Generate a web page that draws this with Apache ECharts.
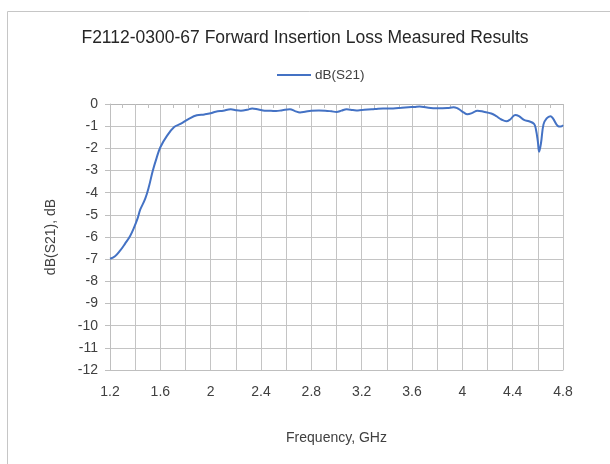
<!DOCTYPE html>
<html>
<head>
<meta charset="utf-8">
<script src="https://cdn.jsdelivr.net/npm/echarts@6/dist/echarts.min.js"></script>
<style>html,body{margin:0;padding:0;background:#fff;}#c{width:610px;height:464px;}</style>
</head>
<body>
<div id="c"></div>
<script>
const chartTitle = 'F2112-0300-67 Forward Insertion Loss Measured Results';
const seriesName = 'dB(S21)';
const xAxisName = 'Frequency, GHz';
const yAxisName = 'dB(S21), dB';
const freqGHz = [1.20,1.24,1.28,1.32,1.36,1.39,1.42,1.44,1.48,1.51,1.54,1.57,1.60,1.65,1.71,1.76,1.83,1.89,1.95,2.00,
  2.04,2.10,2.16,2.20,2.24,2.29,2.33,2.38,2.43,2.48,2.52,2.57,2.63,2.67,2.71,2.75,2.80,2.86,2.91,2.96,
  3.00,3.04,3.08,3.13,3.17,3.22,3.28,3.33,3.37,3.45,3.52,3.57,3.62,3.66,3.72,3.80,3.88,3.93,3.96,3.98,
  4.01,4.04,4.08,4.12,4.17,4.23,4.27,4.31,4.35,4.38,4.42,4.45,4.49,4.53,4.57,4.585,4.60,4.61,4.625,4.645,
  4.67,4.70,4.72,4.76,4.78,4.80];
const s21dB = [-6.98,-6.87,-6.62,-6.30,-5.95,-5.59,-5.15,-4.77,-4.27,-3.71,-3.01,-2.44,-1.95,-1.46,-1.04,-0.90,-0.66,-0.51,-0.47,-0.42,
  -0.35,-0.30,-0.24,-0.28,-0.30,-0.26,-0.20,-0.25,-0.30,-0.31,-0.32,-0.28,-0.24,-0.32,-0.38,-0.35,-0.30,-0.29,-0.30,-0.33,
  -0.36,-0.30,-0.24,-0.27,-0.29,-0.26,-0.24,-0.21,-0.20,-0.20,-0.17,-0.15,-0.13,-0.11,-0.16,-0.19,-0.18,-0.15,-0.19,-0.26,
  -0.38,-0.46,-0.40,-0.30,-0.35,-0.43,-0.55,-0.70,-0.78,-0.70,-0.50,-0.55,-0.72,-0.78,-0.90,-1.15,-1.69,-2.15,-1.77,-0.92,
  -0.65,-0.55,-0.65,-1.00,-1.02,-0.95];
const xMin = 1.2, xMax = 4.8, xGrid = 0.2, xLabelStep = 0.4, xMinorTick = 0.1;
const yMin = -12, yMax = 0, yStep = 1;

const font = 'Liberation Sans';
const chart = echarts.init(document.getElementById('c'), null, {renderer: 'canvas'});
chart.setOption({
  animation: false,
  textStyle: {fontFamily: font},
  graphic: [{type: 'polyline', shape: {points: [[7.5, 470], [7.5, 11.5], [620, 11.5]]}, style: {fill: null, stroke: '#c6c6c6', lineWidth: 1}, silent: true}],
  title: {text: chartTitle, left: 'center', top: 24, textStyle: {fontFamily: font, fontSize: 17.5, fontWeight: 'normal', color: '#262626'}},
  legend: {top: 63, left: 272, itemWidth: 34, itemHeight: 2, itemGap: 6, icon: 'rect',
    textStyle: {fontFamily: font, fontSize: 13.5, color: '#404040', padding: [0,0,0,-1]}, data: [seriesName]},
  grid: {left: 110, right: 47, top: 104, bottom: 94, containLabel: false},
  xAxis: [{
    type: 'value', min: xMin, max: xMax, interval: xGrid, position: 'bottom',
    name: xAxisName, nameLocation: 'middle', nameGap: 61,
    nameTextStyle: {fontFamily: font, fontSize: 14, color: '#404040'},
    axisLine: {show: true, onZero: false, lineStyle: {color: '#bfbfbf'}},
    axisTick: {show: false},
    axisLabel: {margin: 15, fontFamily: font, fontSize: 14, color: '#404040',
      formatter: function (v) { const k = Math.round((v - xMin) / xGrid); return (k % Math.round(xLabelStep / xGrid) === 0) ? String(+v.toFixed(1)) : ''; }},
    splitLine: {show: true, lineStyle: {color: '#c4c4c4', width: 1}}
  }, {
    type: 'value', min: xMin, max: xMax, interval: xMinorTick, position: 'top',
    axisLine: {show: true, onZero: false, lineStyle: {color: '#b5b5b5'}},
    axisTick: {show: true, inside: true, length: 4, lineStyle: {color: '#bfbfbf'}},
    axisLabel: {show: false}, splitLine: {show: false}
  }],
  yAxis: {
    type: 'value', min: yMin, max: yMax, interval: yStep,
    name: yAxisName, nameLocation: 'middle', nameGap: 52, nameRotate: 90,
    nameTextStyle: {fontFamily: font, fontSize: 14, color: '#404040'},
    axisLine: {show: true, lineStyle: {color: '#bfbfbf'}},
    axisTick: {show: true, length: 5, lineStyle: {color: '#bfbfbf'}},
    axisLabel: {margin: 12, fontFamily: font, fontSize: 14, color: '#404040'},
    splitLine: {show: true, lineStyle: {color: '#c4c4c4', width: 1}}
  },
  series: [{
    name: seriesName, type: 'line', xAxisIndex: 0, showSymbol: false, smooth: 0.4,
    lineStyle: {color: '#4472c4', width: 2}, itemStyle: {color: '#4472c4'},
    data: freqGHz.map((f, i) => [f, s21dB[i]])
  }]
});
</script>
</body>
</html>
